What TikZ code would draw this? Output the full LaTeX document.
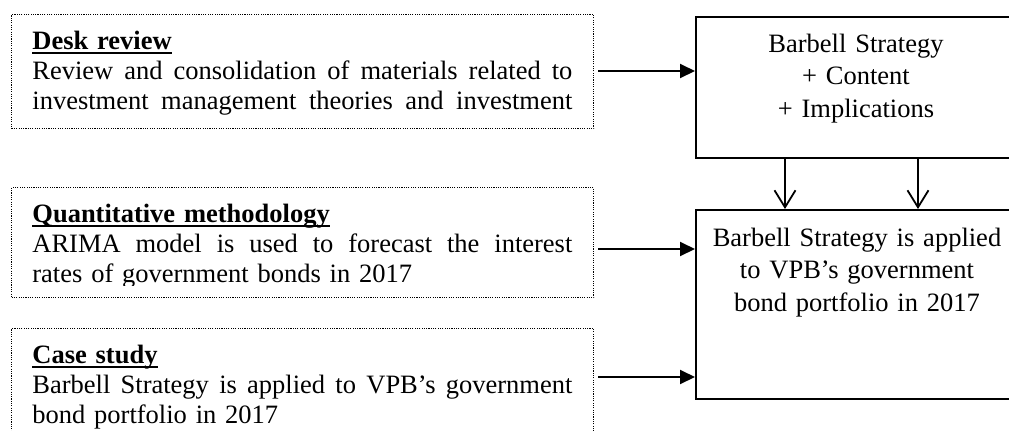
\documentclass[tikz,border=0pt]{standalone}
\usepackage{fontspec}
\setmainfont{Liberation Serif}
\usetikzlibrary{arrows.meta}
\newsavebox\ulbox
\newcommand\myul[1]{\sbox\ulbox{#1}\rlap{\rule[-2.6pt]{\wd\ulbox}{1.2pt}}\usebox\ulbox}
\newcommand\jline[1]{\leavevmode\hbox to 270pt{\spaceskip=0.25em plus 1fil\relax #1}}
\tikzset{
  dotbox/.style={draw, line width=0.7pt, dash pattern=on 0.55pt off 0.6pt, inner sep=0pt, anchor=north west, minimum width=291pt},
  solidbox/.style={draw, line width=0.85pt, inner sep=0pt, anchor=north west, minimum width=158.5pt},
  lefttext/.style={anchor=base west, inner sep=0pt, text width=270pt, align=left,
    font=\fontsize{13.25pt}{15pt}\selectfont},
  righttext/.style={anchor=base, inner sep=0pt, text width=170pt, align=center,
    font=\fontsize{13.25pt}{16.25pt}\selectfont},
  harrow/.style={line width=1pt, -{Triangle[length=7.5pt,width=7pt]}, shorten <=2pt},
  varrow/.style={line width=0.9pt, -{Straight Barb[length=8.5pt,width=10.5pt]}}
}
\begin{document}
\begin{tikzpicture}[x=0.5pt,y=-0.5pt]
\useasboundingbox (0,0) rectangle (1009,430);
% left dotted boxes
\node[dotbox, minimum height=57pt] (b1) at (11,14) {};
\node[dotbox, minimum height=55pt] (b2) at (11,187) {};
\node[dotbox, minimum height=57pt] (b3) at (11,328) {};
% left texts
\node[lefttext] (t1) at (32,49) {\myul{\textbf{Desk review}}\\
  \jline{Review and consolidation of materials related to}\\
  \jline{investment management theories and investment}};
\begin{scope}
  \clip (11,187) rectangle (593,285);
  \node[lefttext] (t2) at (32,222) {\myul{\textbf{Quantitative methodology}}\\
    \jline{ARIMA model is used to forecast the interest}\\
    rates of government bonds in 2017};
\end{scope}
\node[lefttext] (t3) at (32,363) {\myul{\textbf{Case study}}\\
  \jline{Barbell Strategy is applied to VPB’s government}\\
  bond portfolio in 2017};
% right boxes
\node[solidbox, minimum height=70.5pt] (r1) at (695,16) {};
\node[solidbox, minimum height=94.5pt] (r2) at (695,209) {};
\node[righttext] (rt1) at (856,52) {Barbell Strategy\\+ Content\\+ Implications};
\node[righttext] (rt2) at (857,246) {Barbell Strategy is applied\\to VPB’s government\\bond portfolio in 2017};
% connectors
\coordinate (y1) at (0,71);
\coordinate (y2) at (0,249);
\coordinate (y3) at (0,377);
\coordinate (x1) at (785,0);
\coordinate (x2) at (918,0);
\draw[harrow] (b1.east |- y1) -- (r1.west |- y1);
\draw[harrow] (b2.east |- y2) -- (r2.west |- y2);
\draw[harrow] (b3.east |- y3) -- (r2.west |- y3);
\draw[varrow] (r1.south -| x1) -- (r2.north -| x1);
\draw[varrow] (r1.south -| x2) -- (r2.north -| x2);
\end{tikzpicture}
\end{document}
